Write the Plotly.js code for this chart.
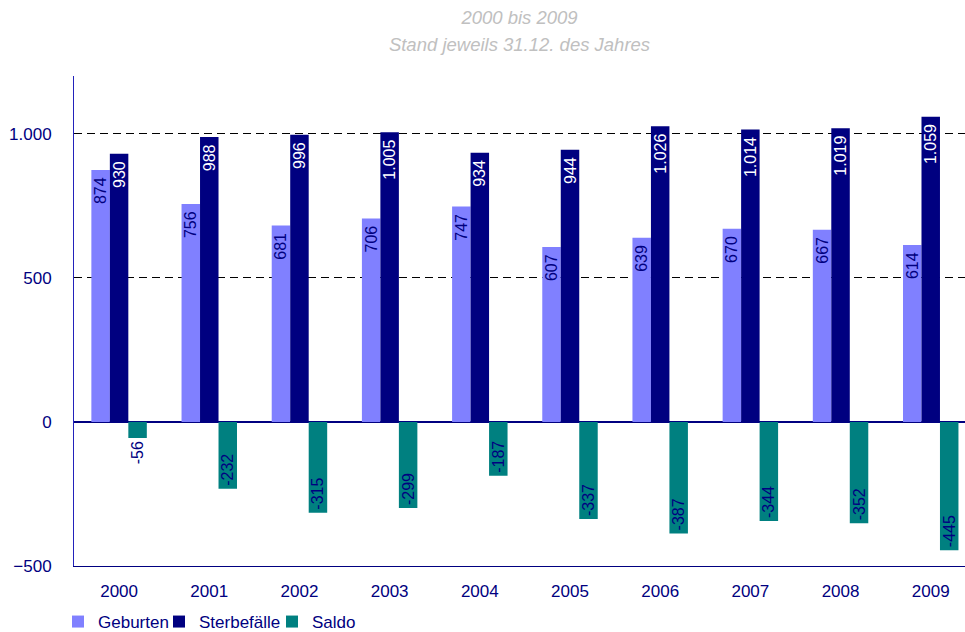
<!DOCTYPE html>
<html><head><meta charset="utf-8">
<script src="https://cdn.plot.ly/plotly-3.0.1.min.js"></script>
<style>body{margin:0;background:#fff}#c{width:965px;height:632px}</style>
</head><body><div id="c"></div>
<script>
var years = ["2000","2001","2002","2003","2004","2005","2006","2007","2008","2009"];
var geburten = [874,756,681,706,747,607,639,670,667,614];
var sterbefaelle = [930,988,996,1005,934,944,1026,1014,1019,1059];
var saldo = [-56,-232,-315,-299,-187,-337,-387,-344,-352,-445];
var yTicks = [-500,0,500,1000];
var titleLines = ['2000 bis 2009', 'Stand jeweils 31.12. des Jahres'];

var navy = '#000080';
var FONT = 'Liberation Sans, Arial, sans-serif';
function tr(name, y, color, txtColor, legendId, pad){
  return {type:'bar', name:name, x:years, y:y, marker:{color:color},
    texttemplate:'%{y:,d}' + pad,
    textposition:y.map(function(v){return Math.abs(v) < 100 ? 'outside' : 'inside';}),
    textangle:-90, insidetextanchor:'end', constraintext:'none',
    textfont:{family:FONT, size:16, color:txtColor},
    outsidetextfont:{family:FONT, size:16, color:navy},
    cliponaxis:false, hoverinfo:'none', legend:legendId};
}
var data = [
  tr('Geburten', geburten, '#8080ff', navy, 'legend', '\u00a0'),
  tr('Sterbefälle', sterbefaelle, '#000080', '#ffffff', 'legend2', '\u00a0'),
  tr('Saldo', saldo, '#008080', navy, 'legend3', '')
];
function leg(px){
  return {orientation:'h', xref:'container', x:px/965, xanchor:'left',
    yref:'container', y:10/632, yanchor:'middle', bgcolor:'rgba(0,0,0,0)',
    font:{family:FONT, size:17, color:navy}, itemwidth:30};
}
var layout = {
  width:965, height:632,
  margin:{l:74, r:0, t:76, b:66},
  separators:',.',
  paper_bgcolor:'#fff', plot_bgcolor:'#fff',
  font:{family:FONT, size:17, color:navy},
  title:{text:titleLines.map(function(s){return '<span style="font-size:18.5px">' + s + '</span>';}).join('<br>'),
    font:{family:FONT, size:21, color:'#c0c0c0', style:'italic'},
    xref:'paper', x:0.5, xanchor:'center', yref:'container', y:1 - 24/632, yanchor:'top'},
  barmode:'group', bargap:0.385, bargroupgap:0,
  xaxis:{type:'category', range:[-0.5,9.38], showline:true, linecolor:navy, linewidth:1,
    ticks:'', showgrid:false, ticklabelstandoff:10, automargin:false,
    tickfont:{family:FONT, size:17, color:navy}},
  yaxis:{range:[-500,1200], tickvals:yTicks, tickformat:',d', showline:true, linecolor:'#2222bb', linewidth:1,
    showgrid:true, gridcolor:'#000', griddash:'8px,5px', gridwidth:1,
    zeroline:true, zerolinecolor:navy, zerolinewidth:1.5, automargin:false,
    ticks:'', ticklabelstandoff:18, tickfont:{family:FONT, size:17, color:navy}},
  showlegend:true,
  legend:leg(58), legend2:leg(159), legend3:leg(272)
};
Plotly.newPlot('c', data, layout, {staticPlot:true});
</script></body></html>
